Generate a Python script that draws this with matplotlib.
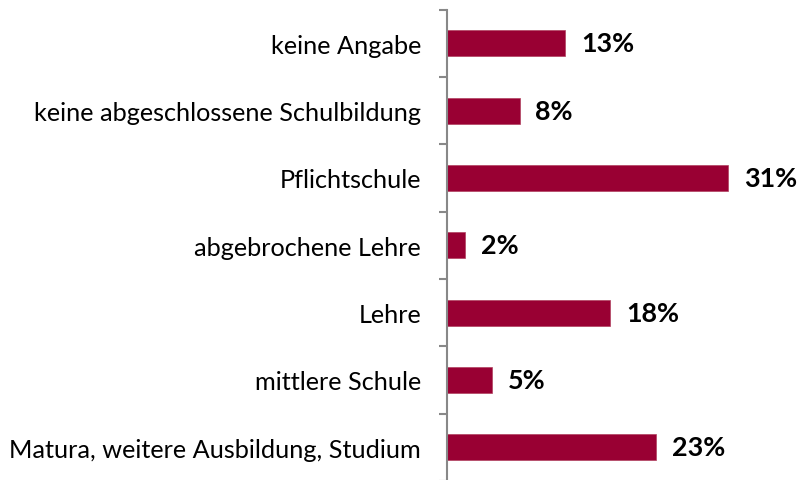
import matplotlib
matplotlib.use("Agg")
import matplotlib.pyplot as plt
import numpy as np

categories = ["keine Angabe", "keine abgeschlossene Schulbildung", "Pflichtschule",
              "abgebrochene Lehre", "Lehre", "mittlere Schule",
              "Matura, weitere Ausbildung, Studium"]
values = [13, 8, 31, 2, 18, 5, 23]
value_labels = ["13%", "8%", "31%", "2%", "18%", "5%", "23%"]

fig = plt.figure(figsize=(8.01, 4.81), dpi=100)
ax = fig.add_axes([447/801, -0.002, 354/801, (482-10.7)/481])

y = np.arange(len(categories))
ax.barh(y, values, height=0.39, color="#990033", edgecolor="#b0405f", linewidth=0.5)
ax.set_ylim(len(categories) - 0.5, -0.5)
ax.set_xlim(0, 39)

for yi, v, lab in zip(y, values, value_labels):
    ax.text(v + 1.75, yi, lab, va="center", ha="left", fontsize=19.4,
            fontweight="bold", family="Lato", color="black")

ax.set_yticks(np.arange(-0.5, len(categories), 1.0))
ax.set_yticklabels([])
ax.tick_params(axis="y", which="major", length=6, width=1.5, color="#888888")
ax.set_yticks(y, minor=True)
ax.set_yticklabels(categories, minor=True, fontsize=18.2, family="Lato")
ax.tick_params(axis="y", which="minor", length=0, pad=18.7)

ax.set_xticks([])
for s in ["top", "right", "bottom"]:
    ax.spines[s].set_visible(False)
ax.spines["left"].set_color("#888888")
ax.spines["left"].set_linewidth(1.5)

fig.savefig("out.png", dpi=100)
